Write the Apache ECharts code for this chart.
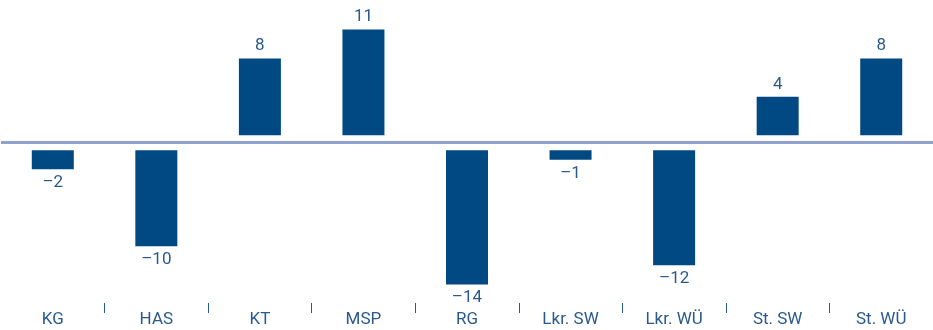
<!DOCTYPE html>
<html>
<head>
<meta charset="utf-8">
<script src="https://cdn.jsdelivr.net/npm/echarts@6/dist/echarts.min.js"></script>
<style>
  html, body { margin: 0; padding: 0; background: #fff; }
  #chart { width: 933px; height: 330px; }
</style>
</head>
<body>
<div id="chart"></div>
<script>
// Kategorien und Werte
var categories = ['KG', 'HAS', 'KT', 'MSP', 'RG', 'Lkr. SW', 'Lkr. WÜ', 'St. SW', 'St. WÜ']
var values = [-2, -10, 8, 11, -14, -1, -12, 4, 8]

var barColor = '#004982'
var textColor = '#2a5a8e'
var GAP = 0.78 // Abstand zwischen Nulllinie und Balken (in Werteinheiten)

var chart = echarts.init(document.getElementById('chart'))

chart.setOption({
  animation: false,
  textStyle: {
    fontFamily: 'Roboto, sans-serif'
  },
  grid: {
    left: 1,
    top: 5,
    width: 933.5,
    bottom: 27
  },
  xAxis: {
    type: 'category',
    data: categories,
    axisLine: { show: false, onZero: false },
    axisTick: {
      show: true,
      length: 10,
      // ersten Strich am linken Rand weglassen
      interval: function(index) {
        return index > 0
      },
      lineStyle: { color: textColor, width: 1 }
    },
    axisLabel: {
      margin: 8,
      color: textColor,
      fontSize: 17,
      interval: 0
    }
  },
  yAxis: {
    type: 'value',
    min: -16.7,
    max: 14.34,
    show: false,
    splitLine: { show: false }
  },
  series: [
    {
      name: 'gap',
      type: 'bar',
      stack: 'a',
      barWidth: 42,
      silent: true,
      itemStyle: { color: 'rgba(0,0,0,0)' },
      data: values.map(function(v) {
        return v >= 0 ? GAP : -GAP
      }),
      markLine: {
        silent: true,
        symbol: 'none',
        label: { show: false },
        lineStyle: { color: '#8fa1cc', width: 3, type: 'solid' },
        data: [{ yAxis: 0 }]
      }
    },
    {
      name: 'Wert',
      type: 'bar',
      stack: 'a',
      barWidth: 42,
      itemStyle: { color: barColor },
      label: {
        show: true,
        color: textColor,
        fontSize: 17,
        formatter: function(p) {
          return p.value < 0 ? '\u2013' + Math.abs(p.value) : String(p.value)
        }
      },
      data: values.map(function(v) {
        return {
          value: v,
          label: v < 0 ? { position: 'bottom', distance: 5 } : { position: 'top', distance: 4 }
        }
      })
    }
  ]
})
</script>
</body>
</html>
